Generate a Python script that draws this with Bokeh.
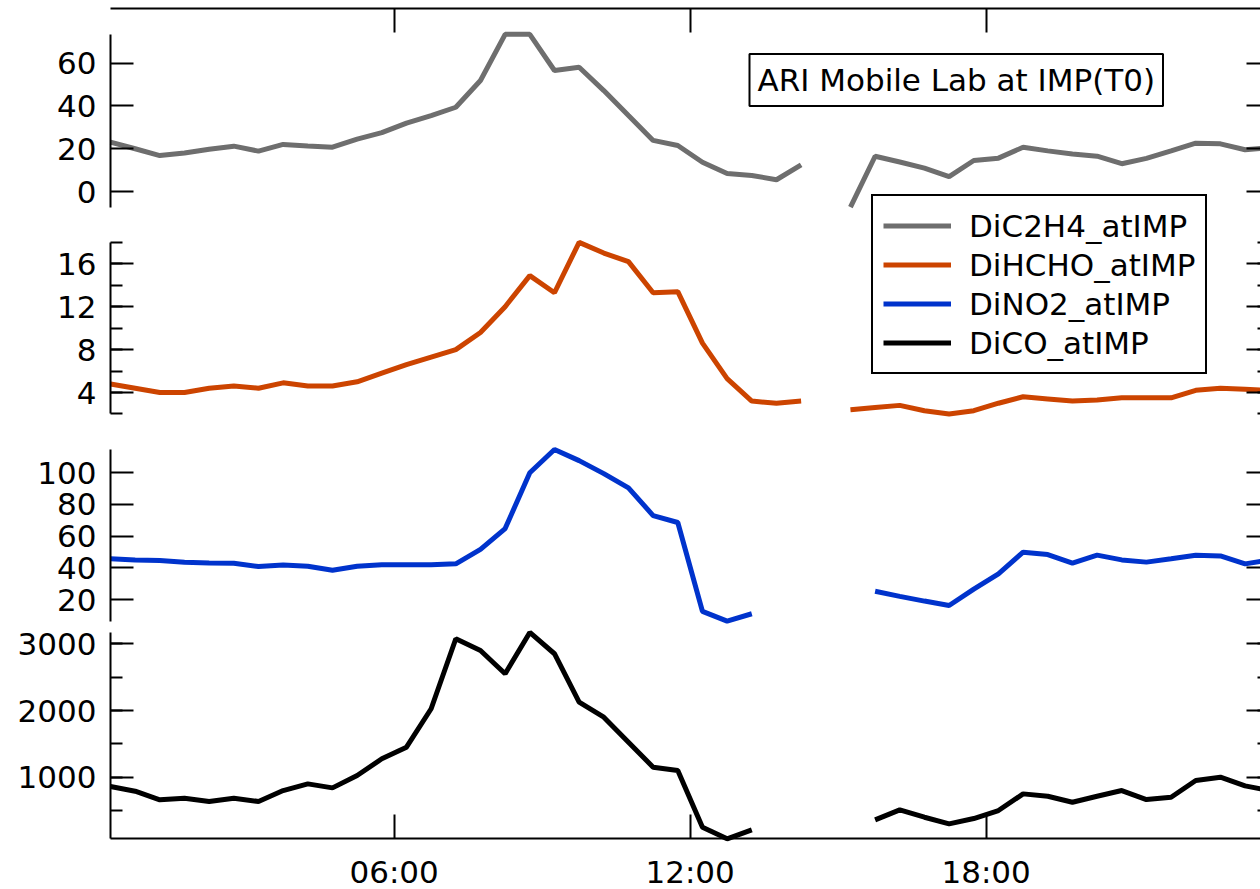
import numpy as np
from bokeh.plotting import figure
from bokeh.models import (ColumnDataSource, LinearAxis, Range1d, FixedTicker,
                          SingleIntervalTicker, Legend, LegendItem, Label,
                          CustomJSTickFormatter)
from bokeh.embed import file_html
from bokeh.resources import INLINE

nan = np.nan

# ---- data (time of day in hours, half-hour averages) ----
hours = [0.25, 0.75, 1.25, 1.75, 2.25, 2.75, 3.25, 3.75, 4.25, 4.75, 5.25, 5.75,
         6.25, 6.75, 7.25, 7.75, 8.25, 8.75, 9.25, 9.75, 10.25, 10.75, 11.25, 11.75,
         12.25, 12.75, 13.25, 13.75, 14.25, 14.75, 15.25, 15.75, 16.25, 16.75, 17.25, 17.75,
         18.25, 18.75, 19.25, 19.75, 20.25, 20.75, 21.25, 21.75, 22.25, 22.75, 23.25, 23.75]

c2h4 = [23.1, 20.0, 16.8, 18.0, 19.8, 21.2, 18.9, 22.0, 21.3, 20.7, 24.5, 27.5,
        32.0, 35.5, 39.4, 51.9, 73.5, 73.5, 56.6, 58.1, 47.2, 35.5, 23.9, 21.5,
        13.7, 8.4, 7.5, 5.5, 12.5, nan, -7.3, 16.5, 13.8, 10.9, 7.0, 14.5,
        15.6, 20.7, 19.0, 17.5, 16.5, 13.0, 15.5, 19.0, 22.6, 22.3, 19.5, 20.5]

hcho = [4.8, 4.4, 4.0, 4.0, 4.4, 4.6, 4.4, 4.9, 4.6, 4.6, 5.0, 5.8,
        6.6, 7.3, 8.0, 9.6, 12.0, 14.9, 13.3, 18.0, 17.0, 16.2, 13.3, 13.4,
        8.6, 5.3, 3.2, 3.0, 3.2, nan, 2.4, 2.6, 2.8, 2.3, 2.0, 2.3,
        3.0, 3.6, 3.4, 3.2, 3.3, 3.5, 3.5, 3.5, 4.2, 4.4, 4.3, 4.2]

no2 = [45.7, 45.0, 44.6, 43.5, 43.0, 42.9, 40.8, 41.8, 41.0, 38.5, 41.0, 42.0,
       42.0, 42.0, 42.5, 51.6, 64.8, 100.0, 114.7, 107.7, 99.5, 90.5, 73.0, 68.6,
       12.5, 6.3, 11.0, nan, nan, nan, nan, 25.2, 22.0, 19.0, 16.2, 26.5,
       36.2, 49.9, 48.4, 42.9, 48.0, 45.0, 43.6, 45.7, 48.0, 47.5, 42.5, 45.0]

co = [860, 790, 661, 685, 636, 685, 636, 800, 900, 840, 1025, 1276,
      1450, 2026, 3076, 2900, 2551, 3170, 2851, 2125, 1900, 1525, 1150, 1100,
      250, 76, 211, nan, nan, nan, nan, 361, 511, 400, 301, 380,
      500, 750, 715, 625, 715, 800, 665, 700, 950, 1000, 870, 800]

series_names = ["DiC2H4_atIMP", "DiHCHO_atIMP", "DiNO2_atIMP", "DiCO_atIMP"]
x_tick_vals = [6, 12, 18]
x_tick_labels = ["06:00", "12:00", "18:00"]
title_text = "ARI Mobile Lab at IMP(T0)"

# ---- layout / style ----
FONT = "DejaVu Sans"
FS = "31px"
W, H = 1260, 889
PX_L, PX_T, PX_B = 110, 8, 838      # pixel positions of left, top, bottom axes
PX_PER_H = 49.33
X0 = 0.25                            # left axis (first sample)
XR = 23.75                           # mirror axis location (just outside view)
x_start = X0 - PX_L / PX_PER_H
x_end = X0 + (W - PX_L) / PX_PER_H

colors = ["#6e6e6e", "#cc4400", "#0033cc", "#000000"]
# calibration of each stacked axis: (value1, px1, value2, px2)
cals = [(60, 62.7, 0, 191.0), (16, 263.3, 4, 392.0),
        (100, 472.3, 20, 599.0), (3000, 643.3, 1000, 776.7)]
tick_int = [20, 4, 20, 1000]
show_minor = [False, True, False, True]
names = ["c2h4", "hcho", "no2", "co"]
datas = [c2h4, hcho, no2, co]

p = figure(width=W, height=H, output_backend="svg", toolbar_location=None,
           x_range=Range1d(x_start, x_end), y_range=Range1d(H, 0),
           x_axis_location=None, y_axis_location=None,
           min_border_left=0, min_border_right=0, min_border_top=0,
           min_border_bottom=0, outline_line_color=None)
p.xgrid.visible = False
p.ygrid.visible = False

blank = CustomJSTickFormatter(code="return ''")

def style_axis(ax, labels=True):
    ax.axis_line_color = "black"
    ax.axis_line_width = 2
    ax.major_tick_line_width = 2
    ax.minor_tick_line_width = 2
    ax.major_tick_line_color = "black"
    ax.major_tick_out = 0
    ax.minor_tick_out = 0
    ax.major_label_text_font = FONT
    ax.major_label_text_font_size = FS
    ax.major_label_text_color = "black"
    if not labels:
        ax.formatter = blank

# top / bottom time axes
bottom = LinearAxis(ticker=FixedTicker(ticks=x_tick_vals), fixed_location=PX_B,
                    bounds=(X0, 30),
                    major_label_overrides={v: s for v, s in zip(x_tick_vals, x_tick_labels)})
style_axis(bottom)
bottom.major_tick_in = 24
bottom.minor_tick_line_color = None
bottom.major_label_standoff = 15
p.add_layout(bottom, "below")

top = LinearAxis(ticker=FixedTicker(ticks=x_tick_vals), fixed_location=PX_T,
                 bounds=(X0, 30))
style_axis(top, labels=False)
top.major_tick_in = 24
top.minor_tick_line_color = None
p.add_layout(top, "above")

ranges = {}
for i, name in enumerate(names):
    v1, p1, v2, p2 = cals[i]
    s = (p2 - p1) / (v1 - v2)
    ranges[name] = Range1d(v1 - (H - p1) / s, v1 + p1 / s)
p.extra_y_ranges = ranges

renderers = []
for i, (name, vals) in enumerate(zip(names, datas)):
    arr = np.array(vals, dtype=float)
    lo, hi = float(np.nanmin(arr)), float(np.nanmax(arr))
    for side, loc, lab in (("left", X0, True), ("right", XR, False)):
        ax = LinearAxis(y_range_name=name, bounds=(lo, hi), fixed_location=loc,
                        ticker=SingleIntervalTicker(interval=tick_int[i], num_minor_ticks=2))
        style_axis(ax, labels=lab)
        ax.major_tick_in = 23
        ax.minor_tick_in = 12
        ax.major_label_standoff = 14
        ax.minor_tick_line_color = "black" if show_minor[i] else None
        p.add_layout(ax, side)
    src = ColumnDataSource(dict(x=hours, y=arr))
    r = p.line("x", "y", source=src, y_range_name=name, line_width=5,
               line_color=colors[i])
    renderers.append(r)

# title box
title = Label(x=X0 + (749 - PX_L) / PX_PER_H, y=79.5,
              text=title_text, text_font=FONT, text_font_size=FS, text_color="black",
              text_align="left", text_baseline="middle",
              padding=8, border_line_color="black", border_line_width=2,
              border_line_alpha=1, background_fill_color="white")
p.add_layout(title)

legend = Legend(items=[LegendItem(label=n, renderers=[r]) for n, r in zip(series_names, renderers)],
                location=(871, H - 374))
legend.label_text_font = FONT
legend.label_text_font_size = FS
legend.label_text_color = "black"
legend.label_height = 39
legend.glyph_height = 39
legend.glyph_width = 68
legend.label_standoff = 18
legend.spacing = 0
legend.padding = 10
legend.margin = 0
legend.border_line_color = "black"
legend.border_line_width = 2
legend.border_line_alpha = 1
legend.background_fill_alpha = 1
p.add_layout(legend)

open("out.html", "w").write(file_html(p, INLINE))
